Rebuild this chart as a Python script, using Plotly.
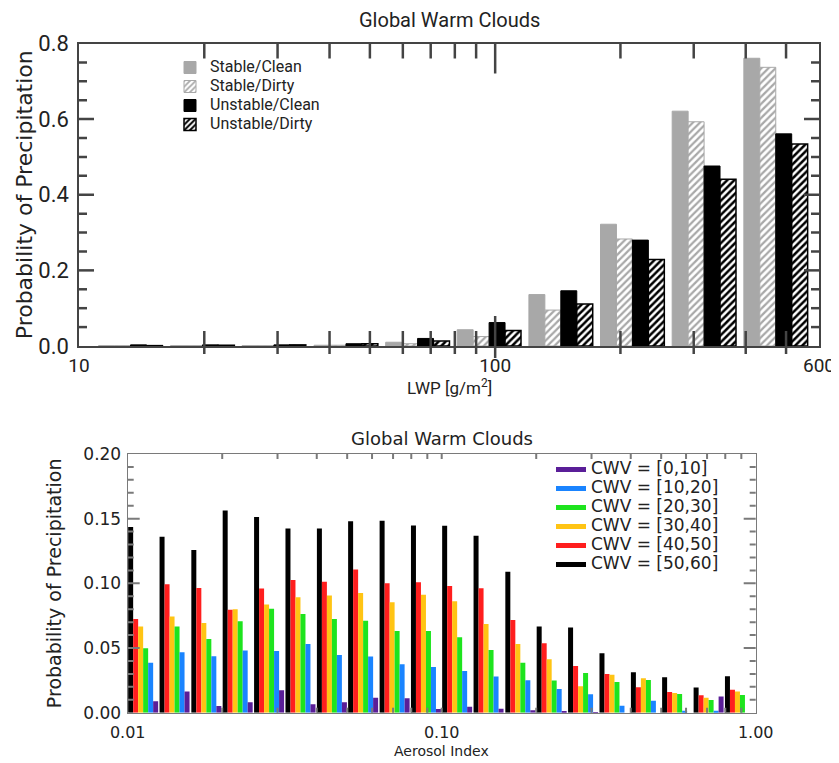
import numpy as np
import plotly.graph_objects as go

# ---------------- data: top panel ----------------
lwp_centers = [13.3, 19.8, 29.4, 43.8, 65.1, 96.7, 143.8, 213.7, 317.7, 472.3]  # g/m2 bin centres
top_names = ["Stable/Clean", "Stable/Dirty", "Unstable/Clean", "Unstable/Dirty"]
stable_clean = [0.001, 0.001, 0.001, 0.002, 0.010, 0.043, 0.136, 0.322, 0.621, 0.761]
stable_dirty = [0.001, 0.001, 0.001, 0.002, 0.006, 0.025, 0.095, 0.283, 0.593, 0.737]
unstable_clean = [0.003, 0.003, 0.003, 0.006, 0.020, 0.062, 0.146, 0.280, 0.476, 0.561]
unstable_dirty = [0.001, 0.002, 0.003, 0.006, 0.013, 0.041, 0.111, 0.229, 0.441, 0.534]
lwp_ticks = [10, 100, 600]
lwp_tick_labels = ["10", "100", "600"]
lwp_minor = [20, 30, 40, 50, 60, 70, 80, 90, 200, 300, 400, 500]

# ---------------- data: bottom panel ----------------
aerosol_centers = [0.0112, 0.0141, 0.0178, 0.0224, 0.0282, 0.0355, 0.0447, 0.0562, 0.0708, 0.0891,
                   0.112, 0.141, 0.178, 0.224, 0.282, 0.355, 0.447, 0.562, 0.708, 0.891]
cwv_labels = ["CWV = [50,60]", "CWV = [40,50]", "CWV = [30,40]", "CWV = [20,30]", "CWV = [10,20]", "CWV = [0,10]"]
cwv_50_60 = [0.1435, 0.136, 0.1257, 0.1564, 0.1512, 0.1425, 0.1425, 0.148, 0.1484, 0.1448,
             0.1445, 0.1368, 0.1089, 0.0666, 0.0658, 0.0459, 0.0312, 0.0274, 0.0194, 0.0281]
cwv_40_50 = [0.0725, 0.0994, 0.0965, 0.0795, 0.096, 0.1025, 0.1012, 0.1107, 0.1001, 0.1009,
             0.098, 0.0963, 0.0717, 0.0537, 0.0361, 0.0299, 0.0196, 0.016, 0.0134, 0.0178]
cwv_30_40 = [0.0666, 0.0743, 0.0694, 0.080, 0.0836, 0.0893, 0.0906, 0.0926, 0.0854, 0.0911,
             0.0862, 0.0686, 0.0532, 0.0413, 0.0204, 0.0294, 0.0266, 0.0152, 0.0116, 0.0163]
cwv_20_30 = [0.0498, 0.0666, 0.057, 0.0707, 0.0803, 0.0764, 0.0725, 0.071, 0.0632, 0.0632,
             0.0583, 0.0485, 0.0387, 0.0248, 0.0307, 0.0237, 0.0253, 0.0145, 0.0098, 0.0137]
cwv_10_20 = [0.0387, 0.0467, 0.0436, 0.048, 0.0477, 0.0532, 0.0446, 0.0434, 0.0374, 0.0354,
             0.0323, 0.0279, 0.025, 0.0183, 0.0142, 0.0054, 0.0093, 0.0015, 0.0015, 0.0]
cwv_0_10 = [0.0088, 0.0163, 0.0052, 0.008, 0.0173, 0.0065, 0.008, 0.0116, 0.0111, 0.0028,
            0.0046, 0.0031, 0.0018, 0.0008, 0.0005, 0.0, 0.0, 0.0, 0.0126, 0.0]
ai_ticks = [0.01, 0.1, 1.0]
ai_tick_labels = ["0.01", "0.10", "1.00"]
ai_minor = [0.02, 0.03, 0.04, 0.05, 0.06, 0.07, 0.08, 0.09, 0.2, 0.3, 0.4, 0.5, 0.6, 0.7, 0.8, 0.9]

# ---------------- styling ----------------
PAGE_W, PAGE_H, BODY = 839, 763, 8          # browser body margin offsets the figure by 8 px
W, H = PAGE_W - BODY, PAGE_H - BODY
TOPFONT = "Roboto, Liberation Sans, sans-serif"
BOTFONT = "DejaVu Sans, sans-serif"
GRAY = "#a8a8a8"
TXT = "#222"
cwv_colors = ["#000000", "#ff1e1e", "#ffc414", "#1ee41e", "#1a84ff", "#5a1e98"]


def px_x(p):
    return (p - BODY) / W


def px_y(p):
    return 1 - (p - BODY) / H


fig = go.Figure()

# top panel bars (x in log10 space)
top_x = np.log10(lwp_centers)
top_bin = float(np.mean(np.diff(top_x)))
n_top = 4
bw_top = top_bin * 0.89 / n_top
top_vals = [stable_clean, stable_dirty, unstable_clean, unstable_dirty]
top_styles = [
    dict(color=GRAY, line=dict(color=GRAY, width=1)),
    dict(color=GRAY, line=dict(color=GRAY, width=1),
         pattern=dict(shape="/", fgcolor=GRAY, bgcolor="white", size=5, solidity=0.45, fillmode="replace")),
    dict(color="black", line=dict(color="black", width=1)),
    dict(color="black", line=dict(color="black", width=1.5),
         pattern=dict(shape="/", fgcolor="black", bgcolor="white", size=5, solidity=0.5, fillmode="replace")),
]
for k in range(n_top):
    fig.add_trace(go.Bar(
        x=top_x, y=top_vals[k],
        name='<span style="font-size:16px">' + top_names[k] + "</span>",
        width=bw_top, offset=-n_top * bw_top / 2 + k * bw_top,
        marker=top_styles[k], xaxis="x", yaxis="y", legend="legend",
    ))

# bottom panel bars
bot_x = np.log10(aerosol_centers)
bot_bin = float(np.mean(np.diff(bot_x)))
bot_vals = [cwv_50_60, cwv_40_50, cwv_30_40, cwv_20_30, cwv_10_20, cwv_0_10]
n_bot = len(bot_vals)
bw_bot = bot_bin * 0.955 / n_bot
for k in range(n_bot):
    fig.add_trace(go.Bar(
        x=bot_x, y=bot_vals[k], name=cwv_labels[k], showlegend=False,
        width=bw_bot, offset=-n_bot * bw_bot / 2 + k * bw_bot,
        marker=dict(color=cwv_colors[k], line=dict(width=0)),
        xaxis="x2", yaxis="y2",
    ))
# legend entries (lines) for the bottom panel, purple first
for k in reversed(range(n_bot)):
    fig.add_trace(go.Scatter(
        x=[None], y=[None], mode="lines",
        name='<span style="font-size:17px">' + cwv_labels[k] + "</span>",
        line=dict(color=cwv_colors[k], width=5), xaxis="x2", yaxis="y2",
        legend="legend2", hoverinfo="skip",
    ))

top_px = dict(l=79, r=819, t=43.5, b=346)
bot_px = dict(l=127.7, r=755.7, t=454, b=712.7)
top_dom_x = [px_x(top_px["l"]), px_x(top_px["r"])]
top_dom_y = [px_y(top_px["b"]), px_y(top_px["t"])]
bot_dom_x = [px_x(bot_px["l"]), px_x(bot_px["r"])]
bot_dom_y = [px_y(bot_px["b"]), px_y(bot_px["t"])]
top_h = top_px["b"] - top_px["t"]
top_w = top_px["r"] - top_px["l"]
bot_h = bot_px["b"] - bot_px["t"]
bot_w = bot_px["r"] - bot_px["l"]

AX_TOP = "#444444"
AX_BOT = "#7a7a7a"
top_range = [1, float(np.log10(600))]

lwp_all = lwp_ticks + lwp_minor
lwp_all_text = lwp_tick_labels + [""] * len(lwp_minor)
ai_all = ai_ticks + ai_minor
ai_all_text = ai_tick_labels + [""] * len(ai_minor)

# ---- tick marks along the axes (x in axis data units, y in axis-domain fractions) ----
shapes = []


def xtick(xref, yref, xv, y0, y1, color, width):
    shapes.append(dict(type="line", xref=xref, yref=yref, x0=xv, x1=xv, y0=y0, y1=y1,
                       line=dict(color=color, width=width), layer="above"))


def ytick(xref, yref, yv, x0, x1, color, width):
    shapes.append(dict(type="line", xref=xref, yref=yref, x0=x0, x1=x1, y0=yv, y1=yv,
                       line=dict(color=color, width=width), layer="above"))


for v in lwp_all:
    lv = float(np.log10(v))
    if lv <= top_range[0] + 1e-9 or lv >= top_range[1] - 1e-9:
        continue
    major = v in lwp_ticks
    inner = (30 if major else 15) / top_h
    outer = (12 if major else 8) / top_h
    xtick("x", "y domain", lv, -outer, inner, AX_TOP, 2.5)
    xtick("x", "y domain", lv, 1 - inner, 1, AX_TOP, 2.5)
for yv in np.arange(0.05, 0.8, 0.05):
    major = abs(yv / 0.2 - round(yv / 0.2)) < 1e-6
    ln = (15 if major else 8) / top_w
    ytick("x domain", "y", float(yv), 0, ln, AX_TOP, 2.5)
    ytick("x domain", "y", float(yv), 1 - ln, 1, AX_TOP, 2.5)
for v in ai_minor + [0.1]:
    lv = float(np.log10(v))
    ln = 5 / bot_h
    xtick("x2", "y2 domain", lv, 0, ln, AX_BOT, 2)
    xtick("x2", "y2 domain", lv, 1 - ln, 1, AX_BOT, 2)
for yv in np.arange(0.01, 0.2, 0.01):
    major = abs(yv / 0.05 - round(yv / 0.05)) < 1e-6
    ln = (12 if major else 6) / bot_w
    ytick("x2 domain", "y2", float(yv), 0, ln, AX_BOT, 2)
    ytick("x2 domain", "y2", float(yv), 1 - ln, 1, AX_BOT, 2)

fig.update_layout(
    width=W, height=H, margin=dict(l=0, r=0, t=0, b=0),
    paper_bgcolor="white", plot_bgcolor="white",
    barmode="overlay", showlegend=True, shapes=shapes,
    xaxis=dict(
        domain=top_dom_x, anchor="y", range=top_range, showgrid=False, zeroline=False,
        showline=True, linecolor=AX_TOP, linewidth=1.5, mirror=True,
        tickmode="array", tickvals=[float(v) for v in np.log10(lwp_all)], ticktext=lwp_all_text,
        ticks="", tickfont=dict(family=TOPFONT, size=19, color=TXT), ticklabelstandoff=1,
        automargin=False,
    ),
    yaxis=dict(
        domain=top_dom_y, anchor="x", range=[0, 0.8], showgrid=False, zeroline=False,
        showline=True, linecolor=AX_TOP, linewidth=1.5, mirror=True,
        dtick=0.2, tick0=0, tickformat=".1f", ticks="",
        tickfont=dict(family=TOPFONT, size=22, color=TXT), ticklabelstandoff=4,
        title=dict(text="Probability of Precipitation", font=dict(family=BOTFONT, size=22, color=TXT), standoff=0),
        automargin=False,
    ),
    xaxis2=dict(
        domain=bot_dom_x, anchor="y2", range=[-2, 0], showgrid=False, zeroline=False,
        showline=True, linecolor=AX_BOT, linewidth=1.2, mirror=True,
        tickmode="array", tickvals=[float(v) for v in np.log10(ai_all)], ticktext=ai_all_text,
        ticks="", tickfont=dict(family=BOTFONT, size=16, color=TXT), ticklabelstandoff=5,
        automargin=False,
    ),
    yaxis2=dict(
        domain=bot_dom_y, anchor="x2", range=[0, 0.2], showgrid=False, zeroline=False,
        showline=True, linecolor=AX_BOT, linewidth=1.2, mirror=True,
        dtick=0.05, tick0=0, tickformat=".2f", ticks="",
        tickfont=dict(family=BOTFONT, size=17, color=TXT), ticklabelstandoff=2,
        title=dict(text="Probability of Precipitation", font=dict(family=BOTFONT, size=19, color=TXT), standoff=16),
        automargin=False,
    ),
    legend=dict(
        x=px_x(170), y=px_y(53), xanchor="left", yanchor="top", bgcolor="rgba(0,0,0,0)",
        font=dict(family=TOPFONT, size=12, color=TXT), tracegroupgap=0, itemwidth=30,
    ),
    legend2=dict(
        x=px_x(551), y=px_y(455), xanchor="left", yanchor="top", bgcolor="rgba(0,0,0,0)",
        font=dict(family=BOTFONT, size=11, color=TXT), tracegroupgap=0, itemwidth=30,
    ),
    annotations=[
        dict(text="Global Warm Clouds", x=(top_dom_x[0] + top_dom_x[1]) / 2, y=px_y(20),
             xref="paper", yref="paper", showarrow=False, xanchor="center", yanchor="middle",
             font=dict(family=TOPFONT, size=20, color=TXT)),
        dict(text="LWP [g/m<sup>2</sup>]", x=(top_dom_x[0] + top_dom_x[1]) / 2, y=px_y(387),
             xref="paper", yref="paper", showarrow=False, xanchor="center", yanchor="middle",
             font=dict(family=TOPFONT, size=17, color=TXT)),
        dict(text="Global Warm Clouds", x=(bot_dom_x[0] + bot_dom_x[1]) / 2, y=px_y(438),
             xref="paper", yref="paper", showarrow=False, xanchor="center", yanchor="middle",
             font=dict(family=BOTFONT, size=18, color=TXT)),
        dict(text="Aerosol Index", x=(bot_dom_x[0] + bot_dom_x[1]) / 2, y=px_y(751),
             xref="paper", yref="paper", showarrow=False, xanchor="center", yanchor="middle",
             font=dict(family=BOTFONT, size=14, color=TXT)),
    ],
)

fig.write_html("out.html")
